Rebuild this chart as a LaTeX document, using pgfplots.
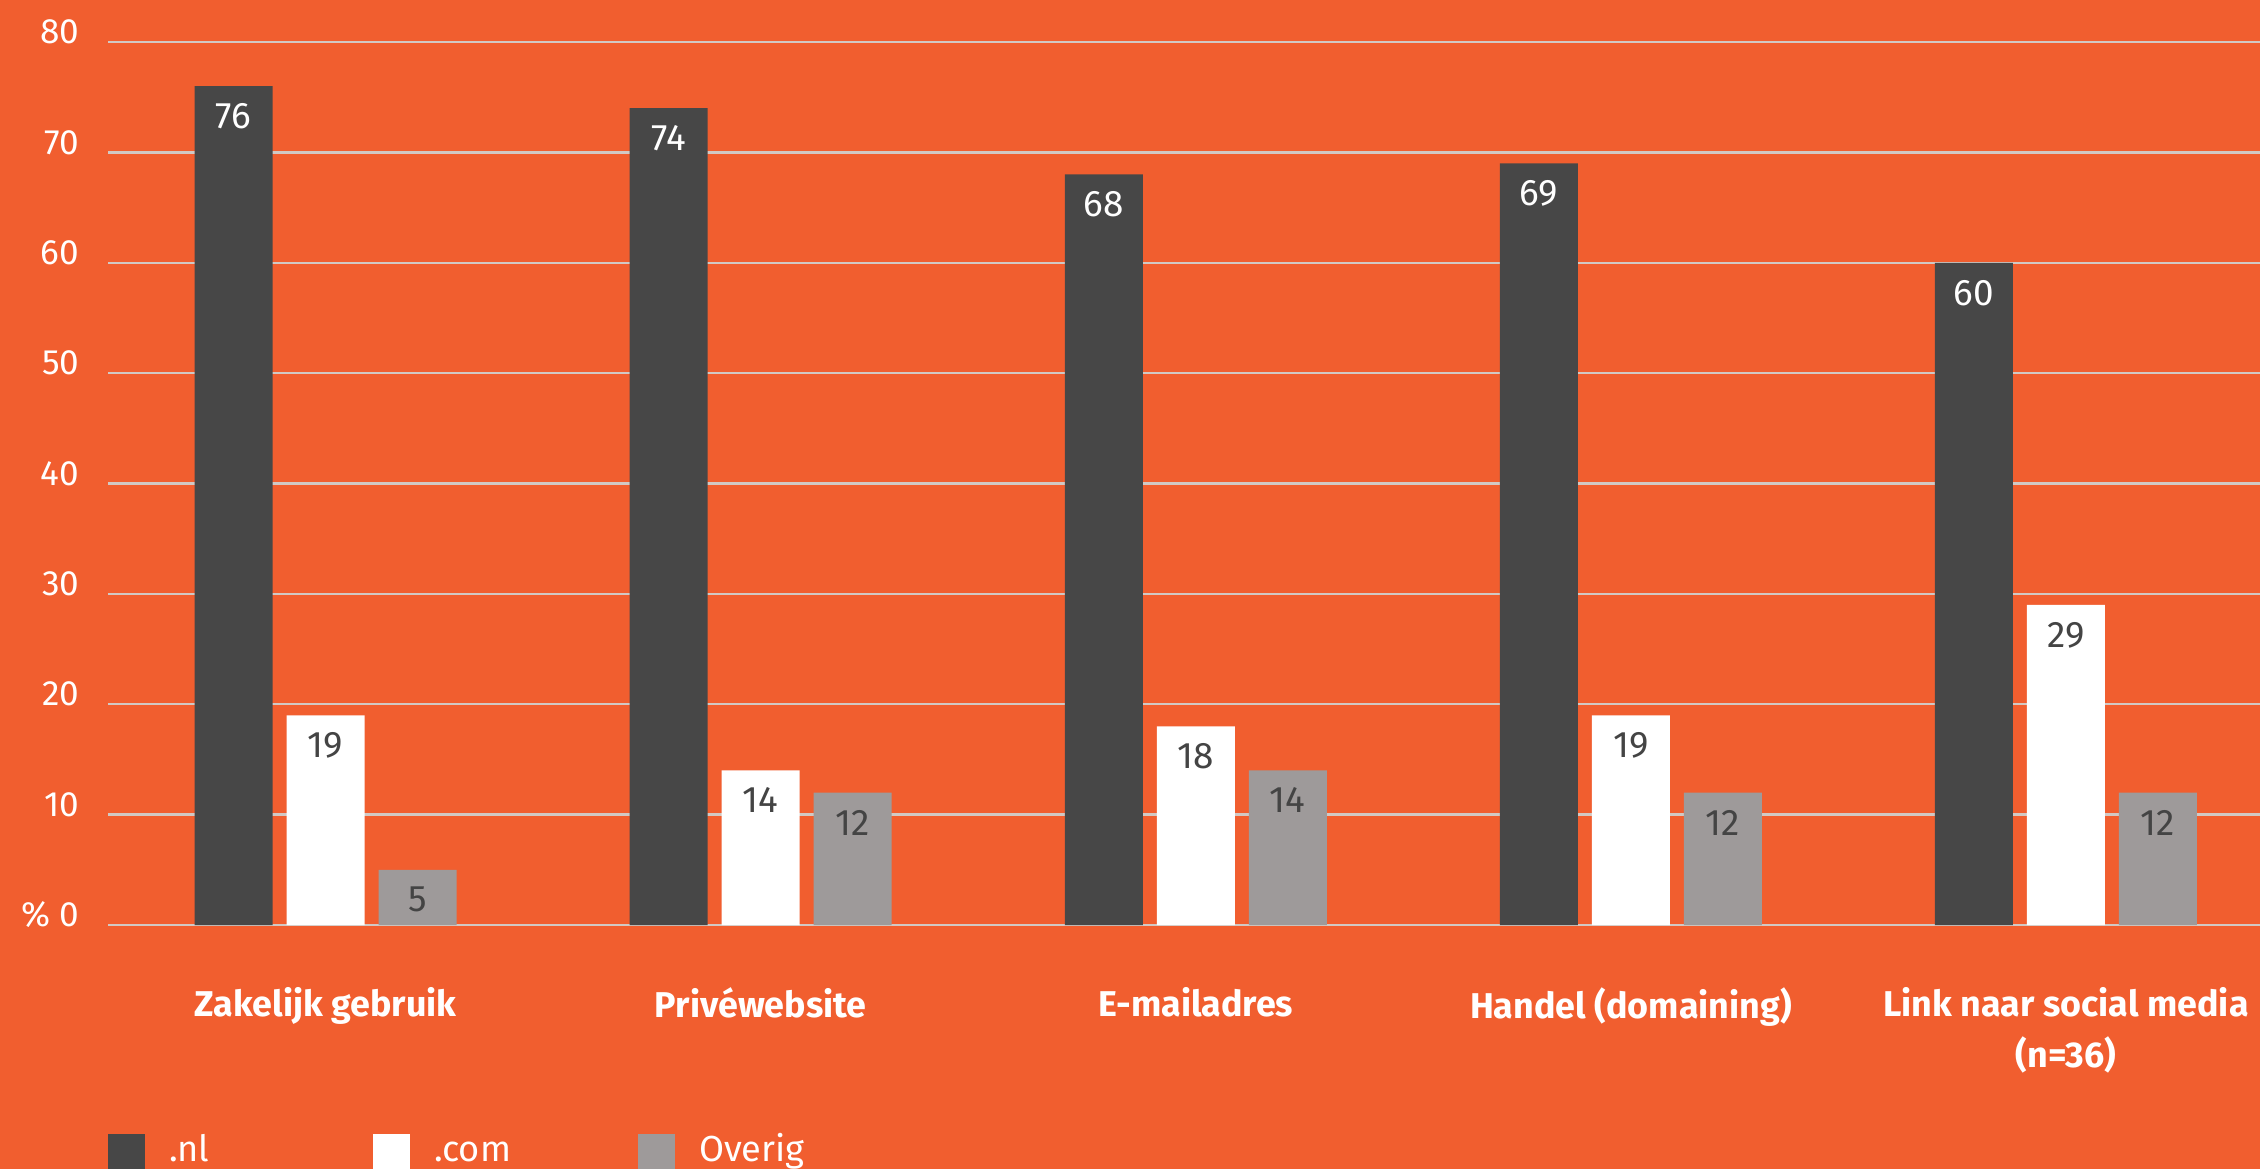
\documentclass[border=0pt]{standalone}
\usepackage{fontspec}
\setmainfont{Fira Sans}
\usepackage{pgfplots}
\pgfplotsset{compat=1.18}
\definecolor{bg}{HTML}{F15E2F}
\definecolor{nl}{HTML}{474747}
\definecolor{com}{HTML}{FFFFFF}
\definecolor{ov}{HTML}{9E9A9A}
\definecolor{gridc}{HTML}{D2C9C4}
\definecolor{dtext}{HTML}{444444}
\pgfplotsset{sqlegend/.style={legend image code/.code={\fill[##1] (0cm,-0.4cm) rectangle (0.37cm,0.27cm); \path (0.61cm,0cm);}}}
\begin{document}
\begin{tikzpicture}
\path[use as bounding box, fill=bg] (0,0) rectangle (22.6cm,11.69cm);
\begin{axis}[
  at={(1.08cm,2.44cm)}, anchor=south west,
  width=21.52cm, height=8.83cm, scale only axis,
  xmin=-0.5, xmax=4.446, ymin=0, ymax=80,
  ybar=0.14cm, bar width=0.78cm,
  /pgf/number format/assume math mode=true,
  axis line style={draw=none}, major tick length=0pt,
  ytick={0,10,...,80}, yticklabels={\% 0,10,20,30,40,50,60,70,80},
  ymajorgrids, grid style={gridc, line width=0.7pt},
  xtick={0,1,2,3,4},
  xticklabels={Zakelijk gebruik, Privéwebsite, E-mailadres, Handel (domaining), {Link naar social media\\(n=36)}},
  xticklabel style={font=\fontsize{10.2}{14.5}\selectfont\bfseries, text=white, align=center, inner sep=0pt, anchor=north, yshift=-0.62cm},
  yticklabel style={font=\fontsize{10}{12}\selectfont, text=white, inner sep=0pt, anchor=east, xshift=-0.28cm, yshift=0.1cm},
  nodes near coords,
  every node near coord/.append style={font=\fontsize{10.5}{12}\selectfont, anchor=north, yshift=-0.05cm},
  legend style={at={(axis description cs:0,0)}, anchor=south west, yshift=-2.76cm, xshift=0cm,
    draw=none, fill=none, inner sep=0pt, outer sep=0pt, legend columns=3,
    font=\fontsize{10.3}{12}\selectfont, text=white,
    nodes={inner sep=0pt, anchor=base west}, column sep=0pt},
  clip=false,
]
\addplot[fill=nl, draw=none, every node near coord/.append style={text=white}, sqlegend]
  coordinates {(0,76) (1,74) (2,68) (3,69) (4,60)};
\addplot[fill=com, draw=none, every node near coord/.append style={text=dtext}, sqlegend]
  coordinates {(0,19) (1,14) (2,18) (3,19) (4,29)};
\addplot[fill=ov, draw=none, every node near coord/.append style={text=dtext}, sqlegend]
  coordinates {(0,5) (1,12) (2,14) (3,12) (4,12)};
\legend{\makebox[2.04cm][l]{.nl}, \makebox[2.04cm][l]{.com}, \makebox[2.04cm][l]{Overig}}
\end{axis}
\end{tikzpicture}
\end{document}
